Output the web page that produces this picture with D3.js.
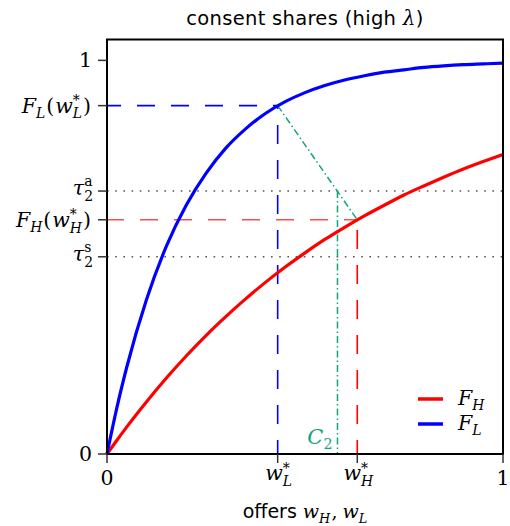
<!DOCTYPE html>
<html><head><meta charset="utf-8">
<script src="https://cdn.jsdelivr.net/npm/d3@7"></script>
<style>
html,body{margin:0;padding:0;background:#fff;}
svg{display:block;}
</style></head>
<body>
<svg id="chart" width="510" height="526"></svg>
<script>
// ---- data ----
const offers = [0,0.025,0.05,0.1,0.15,0.2,0.25,0.3,0.35,0.4,0.45,0.5,0.55,0.6,0.65,0.7,0.75,0.8,0.85,0.9,0.95,1];
const shareL = [0,0.118,0.221,0.393,0.528,0.632,0.713,0.777,0.826,0.865,0.895,0.918,0.936,0.950,0.961,0.970,0.976,0.982,0.986,0.989,0.991,0.993];
const shareH = [0,0.035,0.069,0.133,0.193,0.249,0.301,0.349,0.394,0.436,0.475,0.511,0.545,0.576,0.605,0.632,0.658,0.681,0.703,0.724,0.743,0.761];
const wL = 0.431, wH = 0.632, c2 = 0.582;
const FLw = 0.885, FHw = 0.595, tauA = 0.668, tauS = 0.501;
const yTickVals = [1, FLw, tauA, FHw, tauS, 0];
const xTickVals = [0, wL, wH, 1];

const MATH = "'DejaVu Serif', 'Liberation Serif', serif";
const SANS = "'DejaVu Sans', sans-serif";
const RED = "#ff0000", BLUE = "#0000ff", GREEN = "#12a57a";

const svg = d3.select("#chart");
const L = 107, R = 503, T = 39.5, B = 454;
const x = d3.scaleLinear().domain([0, 1]).range([L, R]);
const y = d3.scaleLinear().domain([0, 1.053]).range([B, T]);

// measure helper
const meas = svg.append("text").attr("x", -1000).attr("y", -1000);
function width(t, fs, italic, fam) {
  meas.attr("font-family", fam || MATH).attr("font-size", fs)
    .attr("font-style", italic ? "italic" : "normal").text(t);
  return meas.node().getComputedTextLength();
}

// math text helper: one <text> with absolutely positioned tspans
function mathText(parent, items, px, py, anchor, size, color) {
  const pieces = [];
  let cur = 0;
  const s = size * 0.68;
  const add = (t, fs, dy, italic, fam) => {
    pieces.push({ t, fs, dy, italic, fam: fam || MATH, x: cur });
    return width(t, fs, italic, fam);
  };
  items.forEach(it => {
    const [t, kind, extra] = it;
    const ex = extra || 0;
    if (kind === "i" || kind === "r") {
      cur += add(t, size, 0, kind === "i") + ex;
    } else if (kind === "sans") {
      cur += add(t, size, 0, false, SANS) + ex;
    } else if (kind === "sub") {
      cur += add(t, s, size * 0.26, true) + ex;
    } else if (kind === "subr") {
      cur += add(t, s, size * 0.26, false) + ex;
    } else if (kind === "subsup" || kind === "subsupr") {
      const start = cur;
      const wb = add(t[1], s, kind === "subsup" ? -size * 0.36 : -size * 0.42, false);
      const wa = add(t[0], s, kind === "subsup" ? size * 0.28 : size * 0.3, kind === "subsup");
      cur = start + Math.max(wa, wb) + ex;
    } else if (kind === "gap") {
      cur += t;
    }
  });
  let ox = px;
  if (anchor === "end") ox = px - cur;
  else if (anchor === "middle") ox = px - cur / 2;
  const txt = parent.append("text").attr("fill", color || "#000");
  pieces.forEach(p => {
    txt.append("tspan").attr("x", ox + p.x).attr("y", py + p.dy)
      .attr("font-family", p.fam).attr("font-size", p.fs)
      .attr("font-style", p.italic ? "italic" : "normal").text(p.t);
  });
  return txt;
}

// ---- reference lines ----
const ref = svg.append("g").attr("fill", "none");
const lineG = d3.line().x(d => x(d[0])).y(d => y(d[1]));
[tauA, tauS].forEach(v => {
  ref.append("path").attr("d", lineG([[0, v], [1, v]]))
    .attr("stroke", "#555").attr("stroke-width", 1.5).attr("stroke-dasharray", "1.6,6.6");
});
// blue dashed
ref.append("path").attr("d", lineG([[0, FLw], [wL, FLw]]))
  .attr("stroke", BLUE).attr("stroke-width", 1.6).attr("stroke-dasharray", "18,16").attr("stroke-dashoffset", 4);
ref.append("path").attr("d", lineG([[wL, 0], [wL, FLw]]))
  .attr("stroke", BLUE).attr("stroke-width", 1.6).attr("stroke-dasharray", "19,16").attr("stroke-dashoffset", 5);
// red dashed
ref.append("path").attr("d", lineG([[0, FHw], [wH, FHw]]))
  .attr("stroke", RED).attr("stroke-opacity", 0.7).attr("stroke-width", 1.6).attr("stroke-dasharray", "18,16").attr("stroke-dashoffset", 1);
ref.append("path").attr("d", lineG([[wH, 0], [wH, FHw]]))
  .attr("stroke", RED).attr("stroke-width", 1.6).attr("stroke-dasharray", "19,16").attr("stroke-dashoffset", 5);
// green dash-dot
ref.append("path").attr("d", lineG([[wL, FLw], [wH, FHw]]))
  .attr("stroke", GREEN).attr("stroke-width", 1.5).attr("stroke-dasharray", "7,3,1.5,3");
ref.append("path").attr("d", lineG([[c2, tauA], [c2, 0]]))
  .attr("stroke", GREEN).attr("stroke-width", 1.5).attr("stroke-dasharray", "7,3,1.5,3");

// ---- curves ----
const curve = d3.line().x((d, i) => x(offers[i])).y(d => y(d)).curve(d3.curveMonotoneX);
svg.append("path").attr("d", curve(shareH)).attr("fill", "none")
  .attr("stroke", RED).attr("stroke-width", 3.2);
svg.append("path").attr("d", curve(shareL)).attr("fill", "none")
  .attr("stroke", BLUE).attr("stroke-width", 3.2);

// ---- frame ----
svg.append("rect").attr("x", L).attr("y", T).attr("width", R - L).attr("height", B - T)
  .attr("fill", "none").attr("stroke", "#000").attr("stroke-width", 2);

// ---- ticks ----
const tk = svg.append("g").attr("stroke", "#333").attr("stroke-width", 1.5);
yTickVals.forEach(v => tk.append("line").attr("x1", L - 9).attr("x2", L).attr("y1", y(v)).attr("y2", y(v)));
xTickVals.forEach(v => tk.append("line").attr("y1", B).attr("y2", B + 9).attr("x1", x(v)).attr("x2", x(v)));

// y tick labels
const FS = 20.5, LX = 92;
const ylab = svg.append("g");
mathText(ylab, [["1", "r"]], LX, y(1) + 7, "end", FS);
mathText(ylab, [["0", "r"]], LX, y(0) + 7, "end", FS);
mathText(ylab, [["F", "i"], ["L", "sub", 1], ["(", "r", 1], ["w", "i"], [["L", "*"], "subsup", 1], [")", "r"]], LX - 1, y(FLw) + 7, "end", FS);
mathText(ylab, [["F", "i"], ["H", "sub", 1], ["(", "r", 1], ["w", "i"], [["H", "*"], "subsup", 1], [")", "r"]], LX - 1, y(FHw) + 7, "end", FS);
mathText(ylab, [["τ", "i"], [["2", "a"], "subsupr"]], LX + 1, y(tauA) + 4, "end", FS);
mathText(ylab, [["τ", "i"], [["2", "s"], "subsupr"]], LX + 1, y(tauS) + 4, "end", FS);

// x tick labels
const xlab = svg.append("g");
mathText(xlab, [["0", "r"]], x(0), B + 31, "middle", FS);
mathText(xlab, [["1", "r"]], x(1), B + 31, "middle", FS);
mathText(xlab, [["w", "i"], [["L", "*"], "subsup"]], x(wL) + 1, B + 26, "middle", FS);
mathText(xlab, [["w", "i"], [["H", "*"], "subsup"]], x(wH) + 1, B + 26, "middle", FS);

// C2 label
mathText(svg, [["C", "i"], ["2", "subr"]], x(c2) - 5, B - 10, "end", 21, GREEN);

// ---- legend ----
const leg = svg.append("g");
[[RED, "H", 399], [BLUE, "L", 424]].forEach(([c, s, yy]) => {
  leg.append("line").attr("x1", 418).attr("x2", 443).attr("y1", yy).attr("y2", yy)
    .attr("stroke", c).attr("stroke-width", 3.5);
  mathText(leg, [["F", "i"], [s, "sub"]], 458, yy + 6, "start", FS);
});

// ---- title & x label ----
const title = svg.append("text").attr("x", (L + R) / 2).attr("y", 25)
  .attr("text-anchor", "middle").attr("font-family", SANS).attr("font-size", 19.5)
  .attr("letter-spacing", 0.3);
title.append("tspan").text("consent shares (high ");
title.append("tspan").attr("font-family", MATH).attr("font-style", "italic").attr("font-size", 20).text("λ");
title.append("tspan").text(")");

mathText(svg, [["offers", "sans"], [6, "gap"], ["w", "i"], ["H", "sub", 1], [",", "r", 5], ["w", "i"], ["L", "sub"]], (L + R) / 2, 518, "middle", 19);
meas.remove();
</script>
</body></html>
